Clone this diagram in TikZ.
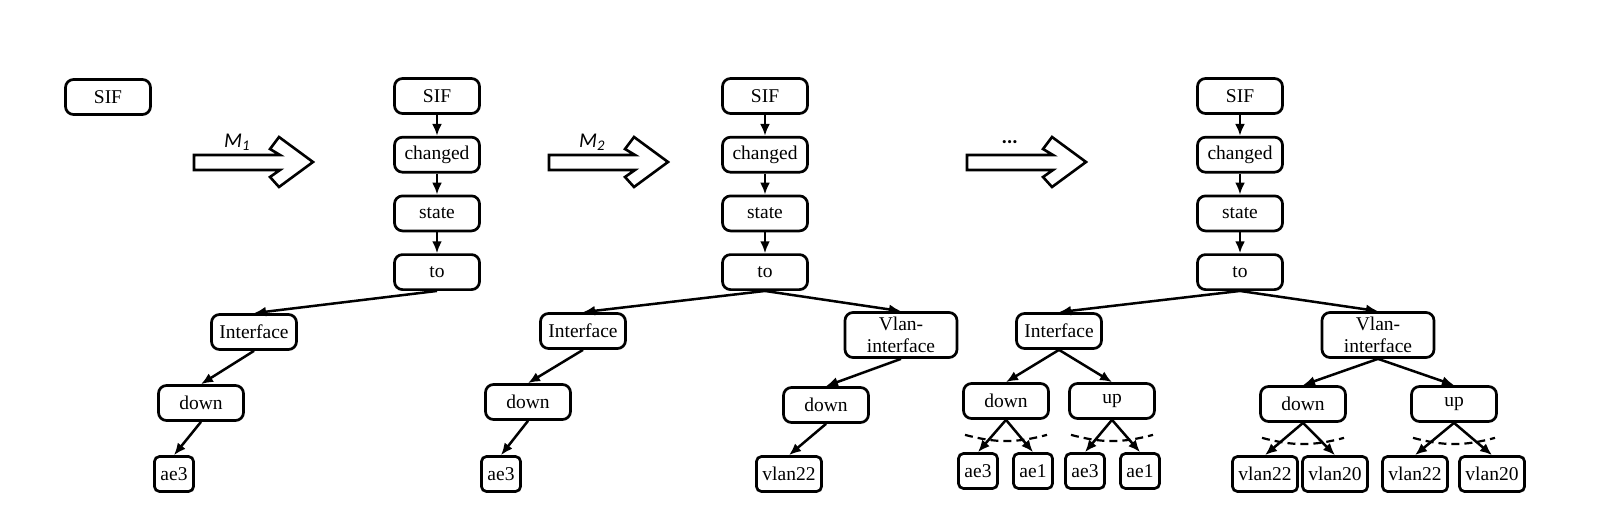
\documentclass[tikz,border=0pt]{standalone}
\usepackage{fontspec}
\setmainfont{Liberation Serif}
\newfontfamily\labelfont{Carlito}
\usetikzlibrary{positioning,arrows.meta}
\tikzset{main node/.style={draw, rounded corners=8pt, line width=2.7pt, minimum width=85pt, minimum height=35pt, inner sep=2pt, font=\fontsize{19.5}{21.5}\selectfont},
leaf node/.style={main node, minimum width=0pt, inner xsep=6pt, rounded corners=5pt},
vlan node/.style={main node, align=center, minimum width=112pt, minimum height=45pt, inner ysep=1pt},
step label/.style={font=\labelfont\itshape\fontsize{21}{22}\selectfont},}

\begin{document}
\begin{tikzpicture}[x=1pt, y=-1pt]
        \useasboundingbox (0,0) rectangle (1621,524);
        % Nodes
        \node[main node] (sif0) at (108,97) {SIF};
        % first tree
        \node[main node] (sif1) at (437,96) {SIF};
        \node[main node] [below = 21pt of sif1] (chg1) {changed};
        \node[main node] [below = 21pt of chg1] (st1) {state};
        \node[main node] [below = 21pt of st1] (to1) {to};
        \node[main node] (int1) at (254,332) {Interface};
        \node[main node] (dn1) at (201,403) {down};
        \node[leaf node] (ae1) at (174,474) {ae3};
        % second tree
        \node[main node] (sif2) at (765,96) {SIF};
        \node[main node] [below = 21pt of sif2] (chg2) {changed};
        \node[main node] [below = 21pt of chg2] (st2) {state};
        \node[main node] [below = 21pt of st2] (to2) {to};
        \node[main node] (int2) at (583,331) {Interface};
        \node[vlan node] (vif2) at (901,335) {Vlan-\\interface};
        \node[main node] (dn2a) at (528,402) {down};
        \node[leaf node] (ae2) at (501,474) {ae3};
        \node[main node] (dn2b) at (826,405) {down};
        \node[leaf node] (vl2) at (789,474) {vlan22};
        % third tree
        \node[main node] (sif3) at (1240,96) {SIF};
        \node[main node] [below = 21pt of sif3] (chg3) {changed};
        \node[main node] [below = 21pt of chg3] (st3) {state};
        \node[main node] [below = 21pt of st3] (to3) {to};
        \node[main node] (int3) at (1059,331) {Interface};
        \node[vlan node] (vif3) at (1378,335) {Vlan-\\interface};
        \node[main node] (dn3a) at (1006,401) {down};
        \node[main node] (up3a) at (1112,401) {up};
        \node[leaf node] (ae3a) at (978,471) {ae3};
        \node[leaf node] (ae3b) at (1033,471) {ae1};
        \node[leaf node] (ae3c) at (1085,471) {ae3};
        \node[leaf node] (ae3d) at (1140,471) {ae1};
        \node[main node] (dn3b) at (1303,404) {down};
        \node[main node] (up3b) at (1454,404) {up};
        \node[leaf node] (vl3a) at (1265,474) {vlan22};
        \node[leaf node] (vl3b) at (1335,474) {vlan20};
        \node[leaf node] (vl3c) at (1415,474) {vlan22};
        \node[leaf node] (vl3d) at (1492,474) {vlan20};
        % Big arrows
        \foreach \x/\lab in {194/{M\textsubscript{1}}, 549/{M\textsubscript{2}}, 967/{\textbf{\ldots}}} {
            \draw[line width=2.6pt, line join=miter] (\x,155) -- ++(86,0) -- ++(-10,-6) -- ++(9,-12) -- ++(34,25) -- ++(-34,25) -- ++(-9,-10) -- ++(10,-7) -- (\x,170) -- cycle;
            \node[step label] at (\x+43,142) {\lab};
        }
        % Paths
        \path[line width=2.5pt, -{Latex[length=12pt,width=10pt]}]
        (sif1) edge (chg1) (chg1) edge (st1) (st1) edge (to1)
        (to1.south) edge (int1.north) (int1.south) edge (dn1.north) (dn1.south) edge (ae1.north)
        (sif2) edge (chg2) (chg2) edge (st2) (st2) edge (to2)
        (to2.south) edge (int2.north) (to2.south) edge (vif2.north)
        (int2.south) edge (dn2a.north) (dn2a.south) edge (ae2.north)
        (vif2.south) edge (dn2b.north) (dn2b.south) edge (vl2.north)
        (sif3) edge (chg3) (chg3) edge (st3) (st3) edge (to3)
        (to3.south) edge (int3.north) (to3.south) edge (vif3.north)
        (int3.south) edge (dn3a.north) (int3.south) edge (up3a.north)
        (dn3a.south) edge (ae3a.north) (dn3a.south) edge (ae3b.north)
        (up3a.south) edge (ae3c.north) (up3a.south) edge (ae3d.north)
        (vif3.south) edge (dn3b.north) (vif3.south) edge (up3b.north)
        (dn3b.south) edge (vl3a.north) (dn3b.south) edge (vl3b.north)
        (up3b.south) edge (vl3c.north) (up3b.south) edge (vl3d.north);
        % dashed arcs
        \foreach \n in {dn3a, up3a, dn3b, up3b}
            \draw[line width=2.2pt, dash pattern=on 8pt off 5pt] ([shift={(-41pt,-15pt)}]\n.south) to[bend right=15] ([shift={(41pt,-15pt)}]\n.south);
    \end{tikzpicture}
\end{document}
